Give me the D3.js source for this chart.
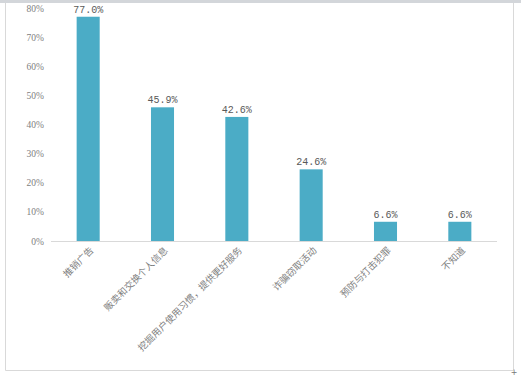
<!DOCTYPE html>
<html><head><meta charset="utf-8">
<script src="https://cdn.jsdelivr.net/npm/d3@7"></script>
<style>body{margin:0;background:#fff}svg{display:block}</style>
</head><body>
<script>
const categories = ["推销广告","贩卖和交换个人信息","挖掘用户使用习惯，提供更好服务","诈骗窃取活动","预防与打击犯罪","不知道"];
const values = [77.0, 45.9, 42.6, 24.6, 6.6, 6.6];
const yTicks = [0,10,20,30,40,50,60,70,80];

const W = 521, H = 376;
const svg = d3.select("body").append("svg").attr("width", W).attr("height", H);
svg.append("rect").attr("x",0).attr("y",0).attr("width",W).attr("height",H).attr("fill","#fff");
svg.append("rect").attr("x",0).attr("y",0).attr("width",W).attr("height",3).attr("fill","#d3d6da");
svg.append("path").attr("d","M5.5,3 V370.5 H513.5 V3").attr("fill","none").attr("stroke","#d9d9d9");
svg.append("text").attr("x",514).attr("y",375).attr("font-size",8).attr("fill","#777").attr("text-anchor","middle").attr("font-family","DejaVu Sans").text("+");

const x = d3.scaleBand().domain(categories).range([51, 497]);
const y = d3.scaleLinear().domain([0, 80]).range([241, 8]);

const yAxis = d3.axisLeft(y).tickValues(yTicks).tickFormat(d => d + "%").tickSize(0).tickPadding(0);
const gy = svg.append("g").attr("transform","translate(44,0)").call(yAxis);
gy.select(".domain").remove();
gy.selectAll("text").attr("font-family","Liberation Serif, serif").attr("font-size",9.5).attr("fill","#808080");

const xAxis = d3.axisBottom(x).tickSize(0).tickFormat("");
const gx = svg.append("g").attr("transform","translate(0,241)").call(xAxis);
gx.select(".domain").attr("stroke","#d9d9d9").attr("d","M51,0.5H497");

const bw = x.bandwidth() * 0.31;
svg.selectAll("rect.bar").data(values).enter().append("rect").attr("class","bar")
  .attr("x",(d,i)=>x(categories[i]) + x.bandwidth()/2 - bw/2)
  .attr("width",bw)
  .attr("y",d=>y(d))
  .attr("height",d=>y(0)-y(d))
  .attr("fill","#4bacc6");

svg.selectAll("text.val").data(values).enter().append("text").attr("class","val")
  .attr("x",(d,i)=>x(categories[i]) + x.bandwidth()/2)
  .attr("y",d=>y(d)-4)
  .attr("text-anchor","middle")
  .attr("font-family","Liberation Mono, monospace")
  .attr("font-size",10)
  .attr("fill","#595959")
  .text(d=>d.toFixed(1)+"%");

svg.selectAll("text.cat").data(categories).enter().append("text").attr("class","cat")
  .attr("transform",(d,i)=>`translate(${x(d)+x.bandwidth()/2+6},${251}) rotate(-45)`)
  .attr("text-anchor","end")
  .attr("font-family","Noto Sans CJK SC, sans-serif")
  .attr("font-size",9.5)
  .attr("fill","#7f7f7f")
  .text(d=>d);
</script>
</body></html>
